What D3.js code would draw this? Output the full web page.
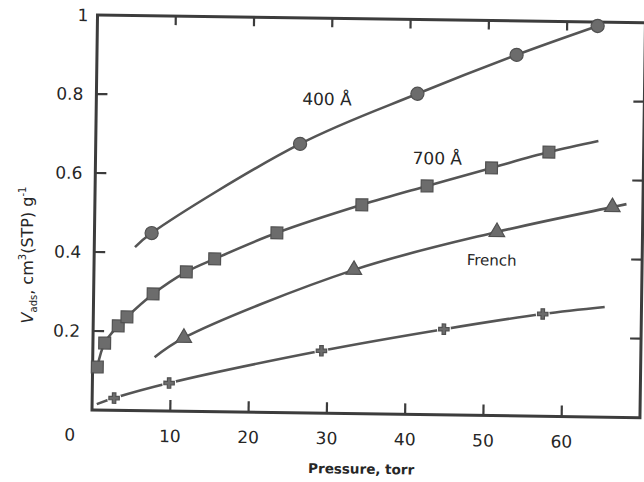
<!DOCTYPE html>
<html>
<head>
  <meta charset="utf-8">
  <script src="https://cdn.jsdelivr.net/npm/d3@7/dist/d3.min.js"></script>
  <style>
  body { margin: 0; background: #fff; }
  text { font-family: "DejaVu Sans", sans-serif; fill: #262626; }
  .frame { fill: none; stroke: #3c3c3c; stroke-width: 3; }
  .tick { stroke: #3c3c3c; stroke-width: 2.2; }
  .curve { fill: none; stroke: #555; stroke-width: 2.6; }
  .mark { fill: #6c6c6c; stroke: #505050; stroke-width: 1.2; }
  </style>
</head>
<body>
<svg width="644" height="482"></svg>
<script>
// tick values and labels
var pressureTicks = [10, 20, 30, 40, 50, 60];
var pressureLabels = ["0", "10", "20", "30", "40", "50", "60"];
var vTicks = [0.2, 0.4, 0.6, 0.8, 1];
var vLabels = ["0.2", "0.4", "0.6", "0.8", "1"];

// 400 A (circles)
var p400 = [7.3, 26.1, 41.0, 53.6, 63.9];
var v400 = [0.450, 0.681, 0.812, 0.914, 0.990];
// 700 A (squares)
var p700 = [0.6, 1.5, 3.2, 4.3, 7.6, 11.8, 15.4, 23.3, 34.1, 42.4, 50.6, 57.9];
var v700 = [0.109, 0.170, 0.214, 0.237, 0.296, 0.353, 0.387, 0.455, 0.529, 0.579, 0.627, 0.669];
// French (triangles)
var pFrench = [11.6, 33.2, 51.4, 66.1];
var vFrench = [0.186, 0.364, 0.465, 0.532];
// lowest curve (crosses)
var pLow = [2.8, 9.8, 29.2, 44.8, 57.4];
var vLow = [0.031, 0.071, 0.158, 0.217, 0.259];

// where each drawn curve starts and stops
var curveStart = [[5.2, 0.414], null, [7.9, 0.136], [0.6, 0.015]];
var curveEnd = [null, [64.2, 0.699], [67.9, 0.540], [65.3, 0.279]];

// curve labels: text, pressure, volume (baseline start)
var curveLabels = [["400 Å", 26.3, 0.78], ["700 Å", 40.5, 0.634], ["French", 47.6, 0.38]];

var svg = d3.select("svg"),
    width = 548,
    height = 395;

var x = d3.scaleLinear().domain([0, 70]).range([0, width]),
    y = d3.scaleLinear().domain([0, 1]).range([height, 0]);

// the scanned figure sits slightly tilted
var g = svg.append("g")
    .attr("transform", "rotate(0.8, 92, 410) translate(92, 15)");

g.append("rect").attr("class", "frame")
  .attr("width", width).attr("height", height);

// inward ticks on all four sides
g.selectAll(".tb").data(pressureTicks).enter().append("line")
  .attr("class", "tick")
  .attr("x1", function(d) { return x(d); }).attr("x2", function(d) { return x(d); })
  .attr("y1", height).attr("y2", height - 11);
g.selectAll(".tt").data(pressureTicks).enter().append("line")
  .attr("class", "tick")
  .attr("x1", function(d) { return x(d); }).attr("x2", function(d) { return x(d); })
  .attr("y1", 0).attr("y2", 9);
g.selectAll(".tl").data(vTicks.slice(0, 4)).enter().append("line")
  .attr("class", "tick")
  .attr("x1", 0).attr("x2", 11)
  .attr("y1", function(d) { return y(d); }).attr("y2", function(d) { return y(d); });
g.selectAll(".tr").data(vTicks.slice(0, 4)).enter().append("line")
  .attr("class", "tick")
  .attr("x1", width).attr("x2", width - 11)
  .attr("y1", function(d) { return y(d); }).attr("y2", function(d) { return y(d); });

// tick labels
g.selectAll(".xl").data(pressureLabels).enter().append("text")
  .attr("x", function(d, i) { return i === 0 ? x(0) - 22 : x(+d); })
  .attr("y", height + 31)
  .attr("text-anchor", "middle")
  .style("font-size", "17px")
  .text(function(d) { return d; });
g.selectAll(".yl").data(vLabels).enter().append("text")
  .attr("x", function(d) { return d === "1" ? -9 : -13; })
  .attr("y", function(d, i) { return y(vTicks[i]); })
  .attr("dy", "0.36em")
  .attr("text-anchor", "end")
  .style("font-size", "17px")
  .text(function(d) { return d; });

g.append("text")
  .attr("x", 270).attr("y", height + 60)
  .attr("text-anchor", "middle")
  .style("font-size", "13.5px").style("font-weight", "bold")
  .text("Pressure, torr");

// y-axis title
var yt = svg.append("text")
  .attr("transform", "translate(33,255) rotate(-90)")
  .attr("text-anchor", "middle")
  .style("font-size", "16px");
yt.append("tspan").style("font-style", "italic").text("V");
yt.append("tspan").attr("dy", 4).style("font-size", "10px").text("ads");
yt.append("tspan").attr("dy", -4).text(", cm");
yt.append("tspan").attr("dy", -7).style("font-size", "10px").text("3");
yt.append("tspan").attr("dy", 7).text("(STP) g");
yt.append("tspan").attr("dy", -7).style("font-size", "10px").text("-1");

// series
var series = [
  { p: p400, v: v400, symbol: d3.symbolCircle, size: 135 },
  { p: p700, v: v700, symbol: d3.symbolSquare, size: 140 },
  { p: pFrench, v: vFrench, symbol: d3.symbolTriangle, size: 105 },
  { p: pLow, v: vLow, symbol: d3.symbolCross, size: 60 }
];

var line = d3.line()
  .x(function(d) { return x(d[0]); })
  .y(function(d) { return y(d[1]); })
  .curve(d3.curveCatmullRom);

series.forEach(function(s, i) {
  var pts = s.p.map(function(p, j) { return [p, s.v[j]]; });
  var path = pts.slice();
  if (curveStart[i]) path.unshift(curveStart[i]);
  if (curveEnd[i]) path.push(curveEnd[i]);

  g.append("path").attr("class", "curve").attr("d", line(path));

  if (s.symbol === d3.symbolCross) {
    // small gaps in the line around each cross
    g.selectAll(".halo" + i).data(pts).enter().append("circle")
      .attr("cx", function(d) { return x(d[0]); })
      .attr("cy", function(d) { return y(d[1]); })
      .attr("r", 7).attr("fill", "#fff");
  }

  g.selectAll(".m" + i).data(pts).enter().append("path")
    .attr("class", "mark")
    .attr("transform", function(d) { return "translate(" + x(d[0]) + "," + y(d[1]) + ")"; })
    .attr("d", d3.symbol().type(s.symbol).size(s.size));
});

g.selectAll(".lab").data(curveLabels).enter().append("text")
  .attr("x", function(d) { return x(d[1]); })
  .attr("y", function(d) { return y(d[2]); })
  .style("font-size", function(d) { return d[0] === "French" ? "15px" : "17px"; })
  .text(function(d) { return d[0]; });
</script>
</body>
</html>
